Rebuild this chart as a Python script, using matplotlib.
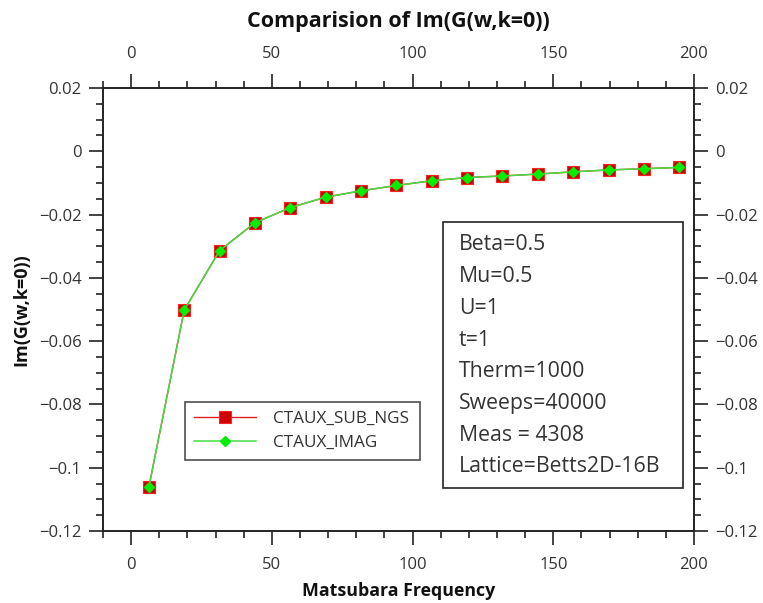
import matplotlib
matplotlib.use("Agg")
import matplotlib.pyplot as plt
from matplotlib.ticker import MultipleLocator, FuncFormatter
from matplotlib.patches import Rectangle

plt.rcParams['font.family'] = ['Open Sans', 'DejaVu Sans']

# Data
freq = [6.28, 18.85, 31.42, 43.98, 56.55, 69.12, 81.68, 94.25,
        106.81, 119.38, 131.95, 144.51, 157.08, 169.65, 182.21, 194.78]
sub_ngs = [-0.1062, -0.0502, -0.0314, -0.0226, -0.0178, -0.0145, -0.0125, -0.0108,
           -0.0093, -0.0083, -0.0078, -0.0072, -0.0065, -0.0059, -0.0055, -0.0051]
imag = [-0.1062, -0.0502, -0.0314, -0.0226, -0.0178, -0.0145, -0.0125, -0.0108,
        -0.0093, -0.0083, -0.0078, -0.0072, -0.0065, -0.0059, -0.0055, -0.0051]
series_names = ["CTAUX_SUB_NGS", "CTAUX_IMAG"]
info_lines = ["Beta=0.5", "Mu=0.5", "U=1", "t=1", "Therm=1000",
              "Sweeps=40000", "Meas = 4308", "Lattice=Betts2D-16B"]
title = "Comparision of Im(G(w,k=0))"
xlabel = "Matsubara Frequency"
ylabel = "Im(G(w,k=0))"

fig = plt.figure(figsize=(7.63, 6.03), dpi=100)
ax = fig.add_axes([103/763, 1-531/603, (694-103)/763, (531-88)/603])

ax.plot(freq, sub_ngs, color='#e02020', lw=1.0, marker='s', ms=8.5,
        mfc='#d00000', mec='#ff2020', mew=0.8, label=series_names[0], zorder=3)
ax.plot(freq, imag, color='#44dd44', lw=1.1, marker='D', ms=5,
        mfc='#00ee00', mec='#00ee00', label=series_names[1], zorder=4)

ax.set_xlim(-10, 200)
ax.set_ylim(-0.12, 0.02)
ax.xaxis.set_major_locator(MultipleLocator(50))
ax.xaxis.set_minor_locator(MultipleLocator(10))
ax.yaxis.set_major_locator(MultipleLocator(0.02))
ax.yaxis.set_minor_locator(MultipleLocator(0.005))

ax.yaxis.set_major_formatter(FuncFormatter(
    lambda v, p: "0" if abs(v) < 1e-12 else ("%g" % round(v, 3)).replace('-', '\u2212')))

ax.tick_params(which='both', direction='out', top=True, right=True,
               labeltop=True, labelright=True, width=1.2, color='#222222')
ax.tick_params(which='major', length=10, labelsize=12, labelcolor='#333333')
ax.tick_params(which='minor', length=5)
ax.tick_params(axis='x', which='major', pad=9)
ax.tick_params(axis='y', which='major', pad=5.5)
for s in ax.spines.values():
    s.set_linewidth(1.4)
    s.set_color('#222222')

ax.set_title(title, fontsize=15.5, fontweight='bold', pad=44, color='#111111')
ax.set_xlabel(xlabel, fontsize=12.8, fontweight='bold', labelpad=6, color='#111111')
ax.set_ylabel(ylabel, fontsize=13, fontweight='bold', labelpad=6, color='#111111')

leg = ax.legend(loc='lower left',
                bbox_to_anchor=((185-103)/591, (531-460)/443, (420-185)/591, 68/443),
                mode='expand', borderaxespad=0, fancybox=False, frameon=True,
                fontsize=12.3, handlelength=3.6, handletextpad=1.0,
                labelspacing=0.45, borderpad=0.55)
leg.get_frame().set_edgecolor('#222222')
leg.get_frame().set_linewidth(1.2)
for t in leg.get_texts():
    t.set_color('#333333')

rect = Rectangle(((443-103)/591, (531-488)/443), (683-443)/591, (488-222)/443,
                 transform=ax.transAxes, fill=True, facecolor='white',
                 edgecolor='#222222', lw=1.2, zorder=5)
ax.add_patch(rect)
y0 = (531-245)/443
dy = 31.7/443
for i, line in enumerate(info_lines):
    ax.text((459-103)/591, y0 - i*dy, line, transform=ax.transAxes,
            fontsize=15.3, color='#333333', va='center', ha='left', zorder=6)

fig.savefig("out.png", dpi=100)
